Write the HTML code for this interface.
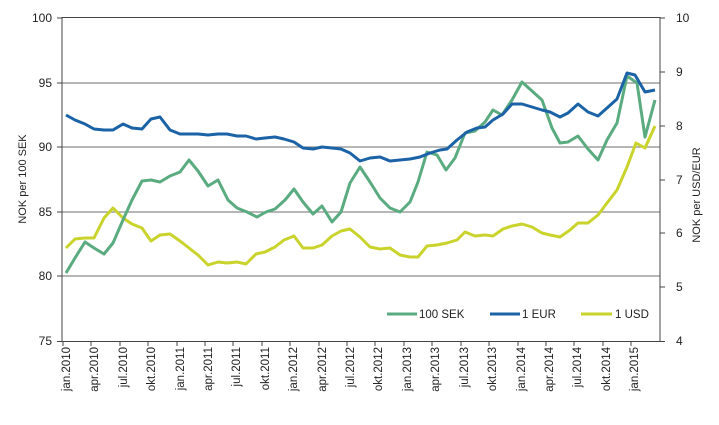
<!DOCTYPE html>
<html><head><meta charset="utf-8"><style>body{margin:0;background:#fff}svg{display:block;font-family:"Liberation Sans",sans-serif}</style></head><body>
<svg width="719" height="425" viewBox="0 0 719 425" xmlns="http://www.w3.org/2000/svg">
<g stroke="#8c8c8c" stroke-width="1.2">
<line x1="62" y1="83" x2="660" y2="83"/><line x1="62" y1="147" x2="660" y2="147"/><line x1="62" y1="212" x2="660" y2="212"/><line x1="62" y1="276" x2="660" y2="276"/>
</g>
<g stroke="#444" stroke-width="1" fill="none">
<line x1="62" y1="17.5" x2="660" y2="17.5"/>
<line x1="62" y1="17" x2="62" y2="341"/><line x1="660" y1="17" x2="660" y2="341"/>
<line x1="57" y1="341.5" x2="665" y2="341.5"/>
<line x1="57" y1="18" x2="62" y2="18"/><line x1="57" y1="83" x2="62" y2="83"/><line x1="57" y1="147" x2="62" y2="147"/><line x1="57" y1="212" x2="62" y2="212"/><line x1="57" y1="276" x2="62" y2="276"/>
<line x1="660" y1="18" x2="665" y2="18"/><line x1="660" y1="72" x2="665" y2="72"/><line x1="660" y1="126" x2="665" y2="126"/><line x1="660" y1="180" x2="665" y2="180"/><line x1="660" y1="233" x2="665" y2="233"/><line x1="660" y1="287" x2="665" y2="287"/>
</g>
<g font-size="12" fill="#222" text-anchor="end">
<text x="52" y="22">100</text><text x="52" y="87">95</text><text x="52" y="151">90</text><text x="52" y="216">85</text><text x="52" y="280">80</text><text x="52" y="345">75</text>
</g>
<g font-size="12" fill="#222">
<text x="676" y="22">10</text><text x="676" y="76">9</text><text x="676" y="130">8</text><text x="676" y="184">7</text><text x="676" y="237">6</text><text x="676" y="291">5</text><text x="676" y="345">4</text>
</g>
<text transform="translate(26,179) rotate(-90)" font-size="11" fill="#222" text-anchor="middle">NOK per 100 SEK</text>
<text transform="translate(700,195) rotate(-90)" font-size="11" fill="#222" text-anchor="middle">NOK per USD/EUR</text>
<g font-size="11.5" fill="#222" text-anchor="end">
<text transform="translate(70,347) rotate(-90)">jan.2010</text>
<text transform="translate(98,347) rotate(-90)">apr.2010</text>
<text transform="translate(127,347) rotate(-90)">jul.2010</text>
<text transform="translate(155,347) rotate(-90)">okt.2010</text>
<text transform="translate(184,347) rotate(-90)">jan.2011</text>
<text transform="translate(212,347) rotate(-90)">apr.2011</text>
<text transform="translate(240,347) rotate(-90)">jul.2011</text>
<text transform="translate(269,347) rotate(-90)">okt.2011</text>
<text transform="translate(297,347) rotate(-90)">jan.2012</text>
<text transform="translate(326,347) rotate(-90)">apr.2012</text>
<text transform="translate(354,347) rotate(-90)">jul.2012</text>
<text transform="translate(382,347) rotate(-90)">okt.2012</text>
<text transform="translate(411,347) rotate(-90)">jan.2013</text>
<text transform="translate(439,347) rotate(-90)">apr.2013</text>
<text transform="translate(468,347) rotate(-90)">jul.2013</text>
<text transform="translate(496,347) rotate(-90)">okt.2013</text>
<text transform="translate(525,347) rotate(-90)">jan.2014</text>
<text transform="translate(553,347) rotate(-90)">apr.2014</text>
<text transform="translate(581,347) rotate(-90)">jul.2014</text>
<text transform="translate(610,347) rotate(-90)">okt.2014</text>
<text transform="translate(638,347) rotate(-90)">jan.2015</text>
</g>
<g stroke="#444" stroke-width="1">
<line x1="63" y1="341" x2="63" y2="346"/><line x1="91" y1="341" x2="91" y2="346"/><line x1="120" y1="341" x2="120" y2="346"/><line x1="148" y1="341" x2="148" y2="346"/><line x1="177" y1="341" x2="177" y2="346"/><line x1="205" y1="341" x2="205" y2="346"/><line x1="233" y1="341" x2="233" y2="346"/><line x1="262" y1="341" x2="262" y2="346"/><line x1="290" y1="341" x2="290" y2="346"/><line x1="319" y1="341" x2="319" y2="346"/><line x1="347" y1="341" x2="347" y2="346"/><line x1="375" y1="341" x2="375" y2="346"/><line x1="404" y1="341" x2="404" y2="346"/><line x1="432" y1="341" x2="432" y2="346"/><line x1="461" y1="341" x2="461" y2="346"/><line x1="489" y1="341" x2="489" y2="346"/><line x1="518" y1="341" x2="518" y2="346"/><line x1="546" y1="341" x2="546" y2="346"/><line x1="574" y1="341" x2="574" y2="346"/><line x1="603" y1="341" x2="603" y2="346"/><line x1="631" y1="341" x2="631" y2="346"/>
</g>
<g fill="none" stroke-width="3" stroke-linejoin="round">
<polyline stroke="#c9d32b" points="66,248 75,239 85,238 94,238 104,218 113,208 123,218 132,224 142,228 151,241 160,235 170,234 180,241 189,248 198,255 208,265 218,262 227,263 237,262 246,264 256,254 265,252 275,247 284,240 294,236 303,248 313,248 322,245 332,236 341,231 350,229 360,237 370,247 380,249 390,248 400,255 410,257 418,257 427,246 437,245 447,243 457,240 465,232 475,236 485,235 493,236 503,229 512,226 522,224 532,227 542,233 550,235 560,237 570,230 578,223 588,223 598,215 607,203 617,190 627,167 636,143 645,148 655,126"/>
<polyline stroke="#5aab7f" points="66,273 75,258 85,242 94,248 104,254 113,243 123,220 132,200 142,181 151,180 160,182 170,176 180,172 189,160 198,171 208,186 218,180 228,200 237,208 247,212 257,217 266,212 275,209 285,200 294,189 303,202 313,214 322,206 332,222 341,212 350,183 360,167 370,182 380,198 390,208 400,212 410,202 418,182 427,152 437,155 446,170 455,158 465,133 475,131 485,122 493,110 502,115 512,100 522,82 532,91 542,100 552,128 560,143 568,142 578,136 588,149 598,160 607,140 617,123 627,76 637,83 645,137 655,100"/>
<polyline stroke="#1b63a6" points="66,115 75,120 85,124 94,129 104,130 113,130 123,124 132,128 142,129 151,119 160,117 170,130 180,134 189,134 198,134 208,135 218,134 227,134 237,136 246,136 256,139 265,138 275,137 284,139 294,142 303,148 313,149 322,147 332,148 341,149 350,153 360,161 370,158 380,157 390,161 400,160 410,159 420,157 430,153 440,150 447,149 457,140 467,132 477,128 485,127 493,120 503,114 512,104 522,104 532,107 542,110 550,112 560,117 568,113 578,104 588,112 598,116 607,108 617,99 627,73 635,75 645,92 655,90"/>
</g>
<g stroke-width="3">
<line x1="387" y1="314" x2="417" y2="314" stroke="#5aab7f"/>
<line x1="490" y1="314" x2="520" y2="314" stroke="#1b63a6"/>
<line x1="581" y1="314" x2="612" y2="314" stroke="#c9d32b"/>
</g>
<g font-size="11.5" fill="#222">
<text x="419" y="318">100 SEK</text><text x="522" y="318">1 EUR</text><text x="615" y="318">1 USD</text>
</g>
</svg>
</body></html>
